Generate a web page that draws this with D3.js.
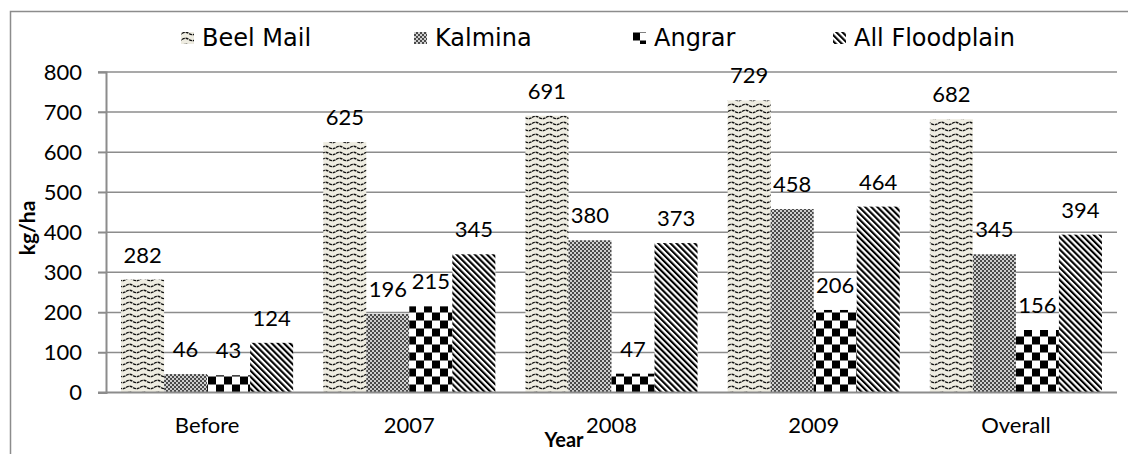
<!DOCTYPE html>
<html>
<head>
<meta charset="utf-8">
<script src="https://cdn.jsdelivr.net/npm/d3@7"></script>
<style>
  body { margin: 0; background: #fff; }
</style>
</head>
<body>
<div id="chart"></div>
<script>
// Data
var categories = ["Before", "2007", "2008", "2009", "Overall"];
var seriesNames = ["Beel Mail", "Kalmina", "Angrar", "All Floodplain"];
var beelMail = [282, 625, 691, 729, 682];
var kalmina = [46, 196, 380, 458, 345];
var angrar = [43, 215, 47, 206, 156];
var allFloodplain = [124, 345, 373, 464, 394];
var yTicks = [0, 100, 200, 300, 400, 500, 600, 700, 800];

var seriesValues = [beelMail, kalmina, angrar, allFloodplain];
var patternIds = ["patWave", "patFine", "patCheck", "patDiag"];

var W = 1128, H = 454;
var plotLeft = 106, plotRight = 1117, plotTop = 72, plotBottom = 392.5;
var labelFont = "Lato, 'Open Sans', sans-serif";

var svg = d3.select("#chart")
  .append("svg")
    .attr("width", W)
    .attr("height", H);

// Pattern fills
var defs = svg.append("defs");

// wave on beige
var pw = defs.append("pattern")
  .attr("id", "patWave")
  .attr("patternUnits", "userSpaceOnUse")
  .attr("width", 14).attr("height", 6);
pw.append("rect").attr("width", 14).attr("height", 6).attr("fill", "#eeece1");
pw.append("path")
  .attr("d", "M0,3.5 Q3.5,1 7,3.5 T14,3.5")
  .attr("fill", "none")
  .attr("stroke", "#111")
  .attr("stroke-width", 1.3)
  .attr("stroke-dasharray", "3,0.8");

// fine gray checker
var pf = defs.append("pattern")
  .attr("id", "patFine")
  .attr("patternUnits", "userSpaceOnUse")
  .attr("width", 4).attr("height", 4);
pf.append("rect").attr("width", 4).attr("height", 4).attr("fill", "#cfcfcf");
pf.append("rect").attr("width", 2).attr("height", 2).attr("fill", "#4a4a4a");
pf.append("rect").attr("x", 2).attr("y", 2).attr("width", 2).attr("height", 2).attr("fill", "#4a4a4a");

// big checkerboard
var pc = defs.append("pattern")
  .attr("id", "patCheck")
  .attr("patternUnits", "userSpaceOnUse")
  .attr("width", 16).attr("height", 16)
  .attr("y", plotBottom);
pc.append("rect").attr("width", 16).attr("height", 16).attr("fill", "#fff");
pc.append("rect").attr("width", 8).attr("height", 8).attr("fill", "#000");
pc.append("rect").attr("x", 8).attr("y", 8).attr("width", 8).attr("height", 8).attr("fill", "#000");

// downward diagonal stripes
var pd = defs.append("pattern")
  .attr("id", "patDiag")
  .attr("patternUnits", "userSpaceOnUse")
  .attr("width", 4.3).attr("height", 6)
  .attr("patternTransform", "rotate(-45)");
pd.append("rect").attr("width", 4.3).attr("height", 6).attr("fill", "#fff");
pd.append("rect").attr("width", 2.1).attr("height", 6).attr("fill", "#000");

// Outer frame (runs off the right and bottom edge)
svg.append("rect")
  .attr("x", 10.5).attr("y", 11.5)
  .attr("width", 1200).attr("height", 600)
  .attr("fill", "none")
  .attr("stroke", "#8c8c8c")
  .attr("stroke-width", 1.5);

// Scales
var x = d3.scaleBand()
  .domain(categories)
  .range([plotLeft, plotRight])
  .paddingInner(0.149)
  .paddingOuter(0.0745);

var xs = d3.scaleBand()
  .domain(seriesNames)
  .range([0, x.bandwidth()]);

var y = d3.scaleLinear()
  .domain([0, 800])
  .range([plotBottom, plotTop]);

// Gridlines
svg.append("g")
  .selectAll("line")
  .data(yTicks.filter(function(d) { return d > 0; }))
  .enter()
  .append("line")
    .attr("x1", plotLeft - 8)
    .attr("x2", plotRight)
    .attr("y1", function(d) { return y(d); })
    .attr("y2", function(d) { return y(d); })
    .attr("stroke", "#8c8c8c")
    .attr("stroke-width", 1.5);

// Y axis
var yAxis = svg.append("g")
  .attr("transform", "translate(" + plotLeft + ",0)")
  .call(d3.axisLeft(y).tickValues(yTicks).tickSize(8).tickPadding(16));
yAxis.select(".domain").attr("stroke", "#8c8c8c").attr("stroke-width", 2);
yAxis.selectAll(".tick line").attr("stroke", "#8c8c8c").attr("stroke-width", 1.5);
yAxis.selectAll(".tick text")
  .attr("font-family", labelFont)
  .attr("font-size", 22)
  .attr("fill", "#000");

// Bars
seriesNames.forEach(function(name, i) {
  svg.selectAll(".bar" + i)
    .data(seriesValues[i])
    .enter()
    .append("rect")
      .attr("class", "bar" + i)
      .attr("x", function(d, j) { return x(categories[j]) + xs(name); })
      .attr("y", function(d) { return y(d); })
      .attr("width", xs.bandwidth())
      .attr("height", function(d) { return plotBottom - y(d); })
      .attr("fill", "url(#" + patternIds[i] + ")");

  // Value labels
  svg.selectAll(".lab" + i)
    .data(seriesValues[i])
    .enter()
    .append("text")
      .attr("class", "lab" + i)
      .attr("x", function(d, j) { return x(categories[j]) + xs(name) + xs.bandwidth() / 2; })
      .attr("y", function(d) { return y(d) - 17; })
      .attr("text-anchor", "middle")
      .attr("font-family", labelFont)
      .attr("font-size", 22)
      .text(function(d) { return d; });
});

// X axis
var xAxis = svg.append("g")
  .attr("transform", "translate(0," + plotBottom + ")")
  .call(d3.axisBottom(x).tickSize(0).tickPadding(25));
xAxis.select(".domain").attr("stroke", "#8c8c8c").attr("stroke-width", 2)
  .attr("d", "M" + (plotLeft - 8) + ",0H" + plotRight);
xAxis.selectAll(".tick text")
  .attr("font-family", labelFont)
  .attr("font-size", 22)
  .attr("fill", "#000");

// Axis titles
svg.append("text")
  .attr("transform", "translate(35,228) rotate(-90)")
  .attr("text-anchor", "middle")
  .attr("font-family", labelFont)
  .attr("font-size", 21)
  .attr("font-weight", "bold")
  .text("kg/ha");

svg.append("text")
  .attr("x", 564)
  .attr("y", 447)
  .attr("text-anchor", "middle")
  .attr("font-family", labelFont)
  .attr("font-size", 20)
  .attr("font-weight", "bold")
  .text("Year");

// Legend
var legendX = [181, 414, 633, 833];
var legend = svg.append("g");
seriesNames.forEach(function(name, i) {
  legend.append("rect")
    .attr("x", legendX[i])
    .attr("y", 32)
    .attr("width", 13)
    .attr("height", 12)
    .attr("fill", "url(#" + patternIds[i] + ")");
  legend.append("text")
    .attr("x", legendX[i] + 21)
    .attr("y", 46)
    .attr("font-family", "'DejaVu Sans', sans-serif")
    .attr("font-size", 24)
    .text(name);
});
</script>
</body>
</html>
